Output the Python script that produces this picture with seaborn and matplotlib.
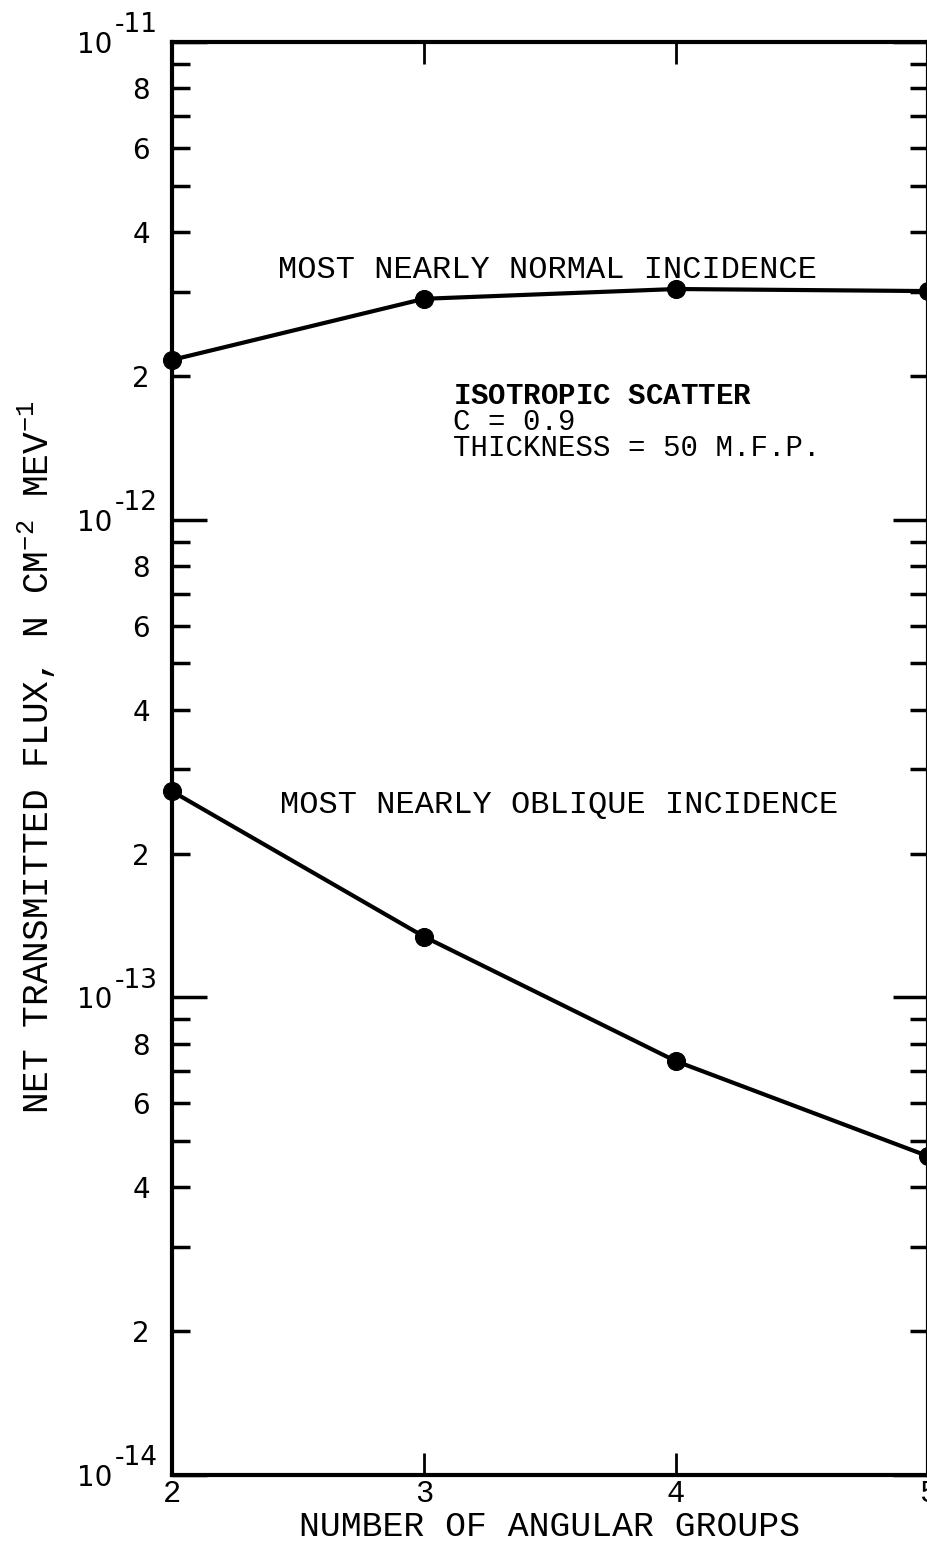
import numpy as np
import pandas as pd
import seaborn as sns
import matplotlib.pyplot as plt
from matplotlib.ticker import FixedLocator, FuncFormatter

# values
groups = [2, 3, 4, 5]
normal_flux = [2.16e-12, 2.90e-12, 3.04e-12, 3.01e-12]
oblique_flux = [2.70e-13, 1.34e-13, 7.35e-14, 4.65e-14]

decades = [1e-14, 1e-13, 1e-12, 1e-11]
minor_mult = [2, 3, 4, 5, 6, 7, 8, 9]
labelled_mult = [2, 4, 6, 8]

df = pd.DataFrame({
    'groups': groups * 2,
    'flux': normal_flux + oblique_flux,
    'series': ['normal'] * len(groups) + ['oblique'] * len(groups),
})

sns.set_style('ticks', {'axes.edgecolor': 'black', 'text.color': 'black',
                        'xtick.color': 'black', 'ytick.color': 'black'})
plt.rcParams['font.family'] = ['DejaVu Sans']
plt.rcParams['mathtext.fontset'] = 'custom'
plt.rcParams['mathtext.rm'] = 'Liberation Mono'
plt.rcParams['mathtext.bf'] = 'Liberation Mono:bold'
mono = 'Liberation Mono'

fig = plt.figure(figsize=(9.28, 15.47), dpi=100)
ax = fig.add_axes([172 / 928, 72 / 1547, 756 / 928, 1433 / 1547])

sns.lineplot(data=df, x='groups', y='flux', units='series', estimator=None,
             color='black', lw=3, marker='o', markersize=13,
             markeredgecolor='black', clip_on=False, ax=ax, legend=False)

ax.set_yscale('log')
ax.set_ylim(1e-14, 1e-11)
ax.set_xlim(2, 5)

# y ticks: decades ("10" + separate exponent) and 2..9 minor, labels on 2,4,6,8
ax.yaxis.set_major_locator(FixedLocator(decades))
ax.yaxis.set_major_formatter(FuncFormatter(lambda v, p: '10'))
minor_ticks = [m * d for d in decades[:-1] for m in minor_mult]
ax.yaxis.set_minor_locator(FixedLocator(minor_ticks))


def minor_fmt(v, p):
    m = int(round(v / 10 ** np.floor(np.log10(v) + 1e-9)))
    return str(m) if m in labelled_mult else ''


ax.yaxis.set_minor_formatter(FuncFormatter(minor_fmt))

ax.tick_params(axis='y', which='major', direction='in', length=25, width=2.5,
               left=True, right=True, labelsize=20, pad=43)
ax.tick_params(axis='y', which='minor', direction='in', length=13, width=2.5,
               left=True, right=True, labelsize=20, pad=16)

for d in decades:
    ax.annotate('-%d' % round(-np.log10(d)), xy=(0, d),
                xycoords=('axes fraction', 'data'), xytext=(-41, 12),
                textcoords='offset points', fontsize=19, ha='left',
                va='center')

ax.set_xticks(groups)
ax.set_xticklabels([str(g) for g in groups], fontfamily=mono)
ax.tick_params(axis='x', direction='in', length=16, width=2, top=True,
               bottom=True, labelsize=22, pad=3)

for s in ax.spines.values():
    s.set_linewidth(3)
    s.set_visible(True)
    s.set_color('black')

ax.set_xlabel('')
ax.set_ylabel('')
fig.text(550 / 928, 1 - 1527 / 1547, 'NUMBER OF ANGULAR GROUPS',
         fontfamily=mono, fontsize=25, ha='center', va='center')
fig.text(37 / 928, 1 - 757 / 1547,
         r'NET TRANSMITTED FLUX, N CM$^{-2}$ MEV$^{-1}$',
         fontfamily=mono, fontsize=26, rotation=90, ha='center', va='center')

ax.text(0.140, 0.841, 'MOST NEARLY NORMAL INCIDENCE', transform=ax.transAxes,
        fontfamily=mono, fontsize=23, va='center')
ax.text(0.143, 0.4675, 'MOST NEARLY OBLIQUE INCIDENCE', transform=ax.transAxes,
        fontfamily=mono, fontsize=23, va='center')
ax.text(0.372, 0.7349,
        r'$\mathbf{ISOTROPIC}$ $\mathbf{SCATTER}$' + '\nC = 0.9\nTHICKNESS = 50 M.F.P.',
        transform=ax.transAxes, fontfamily=mono, fontsize=21, va='center',
        linespacing=0.9)

fig.savefig('out.png', dpi=100)
